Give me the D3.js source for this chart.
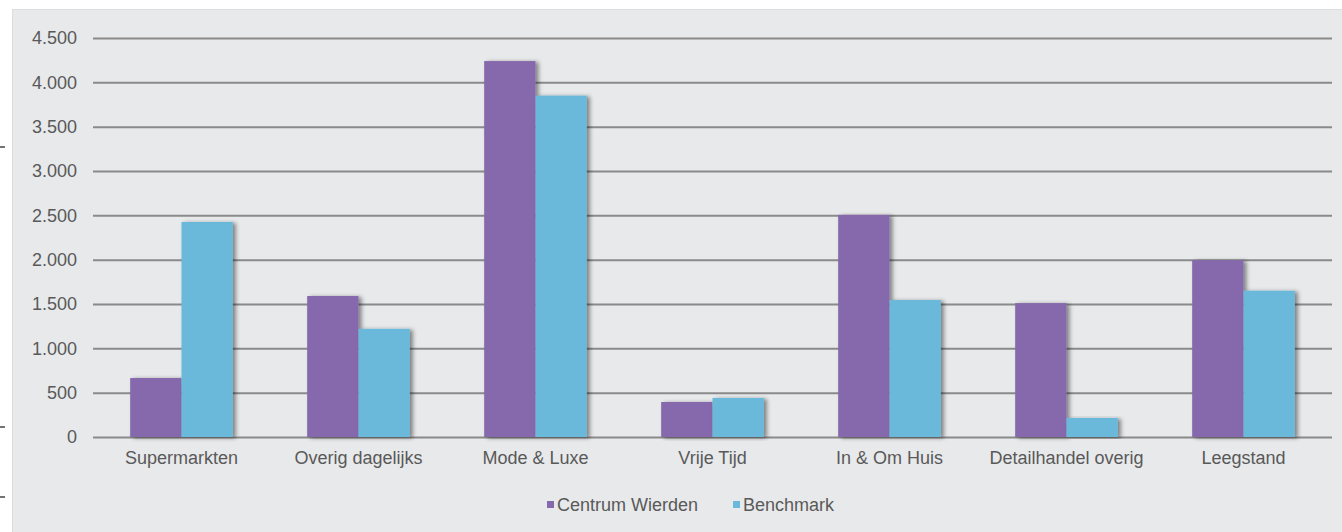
<!DOCTYPE html>
<html>
<head>
<meta charset="utf-8">
<script src="https://cdn.jsdelivr.net/npm/d3@7"></script>
<style>
  body { margin: 0; background: #fff; }
  svg { display: block; font-family: "Liberation Sans", Arial, sans-serif; }
</style>
</head>
<body>
<div id="chart"></div>
<script>
// winkelaanbod (m2 wvo) per branchegroep
const categories = ["Supermarkten", "Overig dagelijks", "Mode & Luxe", "Vrije Tijd", "In & Om Huis", "Detailhandel overig", "Leegstand"];
const seriesNames = ["Centrum Wierden", "Benchmark"];
const centrumWierden = [665, 1590, 4240, 395, 2505, 1510, 1995];
const benchmark      = [2425, 1220, 3850, 440, 1545, 215, 1650];
const yTicks = [0, 500, 1000, 1500, 2000, 2500, 3000, 3500, 4000, 4500];
const colors = ["#8669ad", "#6bb9da"];

const W = 1342, H = 532;
const margin = { top: 38, right: 10, bottom: 95, left: 93 };
const plotW = 1332 - margin.left;
const plotH = 437 - margin.top;
const FS = "18px";
const TXT = "#595959";

const svg = d3.select("#chart").append("svg")
  .attr("width", W)
  .attr("height", H);

// schaduw onder de balken
const defs = svg.append("defs");
const filt = defs.append("filter").attr("id", "shadow")
  .attr("x", "-20%").attr("y", "-10%").attr("width", "150%").attr("height", "120%");
filt.append("feDropShadow")
  .attr("dx", 3).attr("dy", 1).attr("stdDeviation", 2)
  .attr("flood-color", "#000").attr("flood-opacity", 0.45);

// achtergrond paneel
svg.append("rect")
  .attr("x", 12.5).attr("y", 9.5)
  .attr("width", W - 12).attr("height", H - 9)
  .attr("fill", "#e8e9eb")
  .attr("stroke", "#dcdde0");

// kleine streepjes links buiten het paneel
[147, 427, 497].forEach(y => {
  svg.append("line")
    .attr("x1", 0).attr("x2", 5).attr("y1", y).attr("y2", y)
    .attr("stroke", "#444").attr("stroke-width", 1.5);
});

const g = svg.append("g").attr("transform", `translate(${margin.left},${margin.top})`);

const x0 = d3.scaleBand().domain(categories).range([0, plotW]).paddingInner(0.42).paddingOuter(0.21);
const x1 = d3.scaleBand().domain(seriesNames).range([0, x0.bandwidth()]);
const y = d3.scaleLinear().domain([0, 4500]).range([plotH, 0]);

const fmt = v => d3.format(",")(v).replace(/,/g, ".");

// rasterlijnen
g.append("g")
  .call(d3.axisLeft(y).tickValues(yTicks).tickSize(-plotW).tickFormat(fmt).tickPadding(16))
  .call(a => a.select(".domain").remove())
  .call(a => a.selectAll(".tick line").attr("stroke", "#8a8a8a").attr("stroke-width", 2))
  .call(a => a.selectAll(".tick text").attr("fill", TXT).attr("font-size", FS)
    .attr("font-family", "'Liberation Sans', Arial, sans-serif"));

const rows = categories.map((c, i) => ({ cat: c, vals: [centrumWierden[i], benchmark[i]] }));

const groups = g.selectAll(".grp").data(rows).enter().append("g")
  .attr("transform", d => `translate(${x0(d.cat)},0)`);

groups.selectAll("rect")
  .data(d => d.vals.map((v, k) => ({ key: seriesNames[k], v, k })))
  .enter().append("rect")
  .attr("x", d => x1(d.key))
  .attr("width", x1.bandwidth())
  .attr("y", d => y(d.v))
  .attr("height", d => plotH - y(d.v))
  .attr("fill", d => colors[d.k])
  .attr("filter", "url(#shadow)");

// x-as labels
g.append("g")
  .attr("transform", `translate(0,${plotH})`)
  .call(d3.axisBottom(x0).tickSize(0).tickPadding(14))
  .call(a => a.select(".domain").remove())
  .call(a => a.selectAll(".tick text").attr("fill", TXT).attr("font-size", FS)
    .attr("font-family", "'Liberation Sans', Arial, sans-serif"));

// legenda
const legendItems = [
  { name: seriesNames[0], x: 547 },
  { name: seriesNames[1], x: 733 }
];
const legend = svg.append("g");
legendItems.forEach((d, i) => {
  legend.append("rect")
    .attr("x", d.x).attr("y", 501).attr("width", 7).attr("height", 7)
    .attr("fill", colors[i]);
  legend.append("text")
    .attr("x", d.x + 10).attr("y", 511)
    .attr("fill", TXT).attr("font-size", FS)
    .text(d.name);
});
</script>
</body>
</html>
